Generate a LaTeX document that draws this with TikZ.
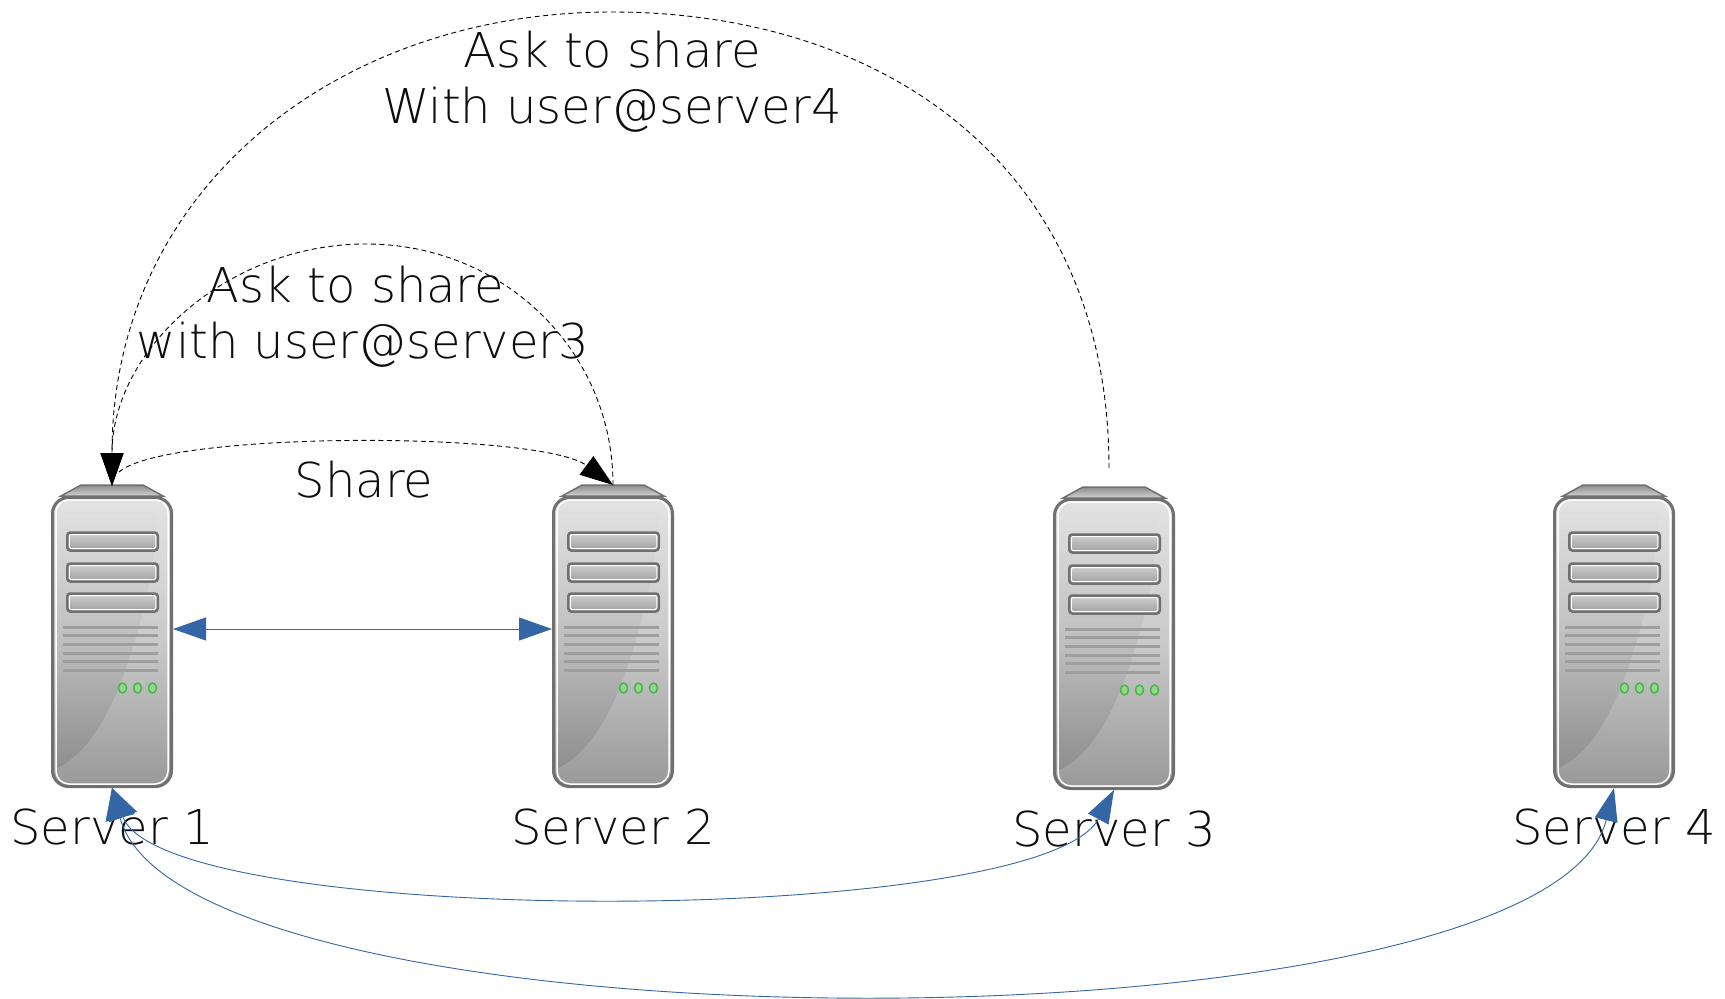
\documentclass[tikz,border=0pt]{standalone}
\usepackage{fontspec}
\setmainfont{DejaVu Sans ExtraLight}
\usetikzlibrary{positioning,arrows.meta,fadings}
\definecolor{linkblue}{HTML}{3465A4}
\definecolor{rimgrey}{HTML}{707073}
\definecolor{ledrim}{HTML}{45B649}
\definecolor{ledfill}{HTML}{98D48E}
\tikzset{
  srvlabel/.style={font=\fontsize{48}{56}\selectfont,text=black!95,align=center,inner sep=0pt},
  bluelink/.style={draw=linkblue,line width=0.9pt,{Triangle[length=33pt,width=23pt,fill=linkblue]}-{Triangle[length=33pt,width=23pt,fill=linkblue]}},
  bluecurve/.style={draw=linkblue,line width=0.9pt,{Triangle[length=31pt,width=30pt,fill=linkblue]}-{Triangle[length=33pt,width=23pt,fill=linkblue]}},
  asklink/.style={draw=black,line width=0.9pt,dash pattern=on 5pt off 3.5pt,-{Triangle[length=33pt,width=23pt,fill=black]}},
  slot/.style={draw=rimgrey,line width=2.5pt,rounded corners=3pt,top color=black!18,bottom color=black!38},
  vent/.style={draw=black!38,line width=3pt},
  led/.style={draw=ledrim,line width=1.5pt,fill=ledfill},
  serverpic/.pic={
    \path[draw=rimgrey,line width=1.5pt,top color=black!45,bottom color=black!18] (-31,0) -- (31,0) -- (51,11) -- (-51,11) -- cycle;
    \node[draw=rimgrey,line width=3pt,rounded corners=16pt,minimum width=119pt,minimum height=289pt,outer sep=1.5pt,
      top color=black!11,bottom color=black!40,middle color=black!21,anchor=north] (-body) at (0,11) {};
    \fill[black,opacity=0.1,path fading=north] (-55,283) .. controls (-10,262) and (15,190) .. (33,118) .. controls (40,90) and (44,50) .. (46,18) -- (-55,18) -- cycle;
    \path[draw=white,line width=1.5pt,rounded corners=13pt] (-56,15) rectangle (56,299);
    \foreach \yy in {46,77,107} {
      \path[slot] (-44.75,\yy+1.5) rectangle (45.75,\yy+19.5);
      \draw[white,line width=1pt,rounded corners=1.5pt] (-42.75,\yy+3.5) rectangle (43.75,\yy+17.5);
    }
    \foreach \yy in {142,150,159,168,176,185} \draw[vent] (-49,\yy) -- (46,\yy);
    \foreach \xx in {10.5,25.5,40.5} \path[led] (\xx,203) ellipse (4pt and 5pt);
  }
}
\begin{document}
\begin{tikzpicture}[x=1pt,y=-1pt]
  \useasboundingbox (0,0) rectangle (1725,999);
  \pic (s1) at (112,485) {serverpic};
  \pic (s2) at (613,485) {serverpic};
  \pic (s3) at (1114,487) {serverpic};
  \pic (s4) at (1614,485) {serverpic};
  % labels
  \node[srvlabel,below=21pt of s1-body] (l1) {Server 1};
  \node[srvlabel,below=21pt of s2-body] (l2) {Server 2};
  \node[srvlabel,below=21pt of s3-body] (l3) {Server 3};
  \node[srvlabel,below=21pt of s4-body] (l4) {Server 4};
  \node[srvlabel] (lshare) at (364,480) {Share};
  \node[srvlabel] (lask3) at (363,317) {Ask to share\hspace*{15pt}\\with user@server3};
  \node[srvlabel] (lask4) at (612,82) {Ask to share\\With user@server4};
  % ends of the links
  \coordinate (tip1) at (112,486);
  \coordinate (tip2) at (613,485);
  \coordinate (share0) at (119,472);
  \coordinate (ask4) at (1109,468);
  \coordinate (top4) at (612,12);
  \coordinate (top3) at (366,244);
  \draw[bluelink] ([yshift=13pt]s1-body.east) -- ([yshift=13pt]s2-body.west);
  \draw[bluecurve] (s1-body.south) .. controls (165,929) and (1039,929) .. (s3-body.south);
  \draw[bluecurve] (s1-body.south) .. controls (185,1058) and (1548,1058) .. (s4-body.south);
  \draw[asklink] (share0) .. controls (165,431) and (540,431) .. (tip2);
  \draw[asklink] (tip2) .. controls (613,350) and (503,244) .. (top3) .. controls (227,244) and (112,350) .. (tip1);
  \draw[asklink] (ask4) .. controls (1109,169) and (888,12) .. (top4) .. controls (336,12) and (112,190) .. (tip1);
\end{tikzpicture}
\end{document}
